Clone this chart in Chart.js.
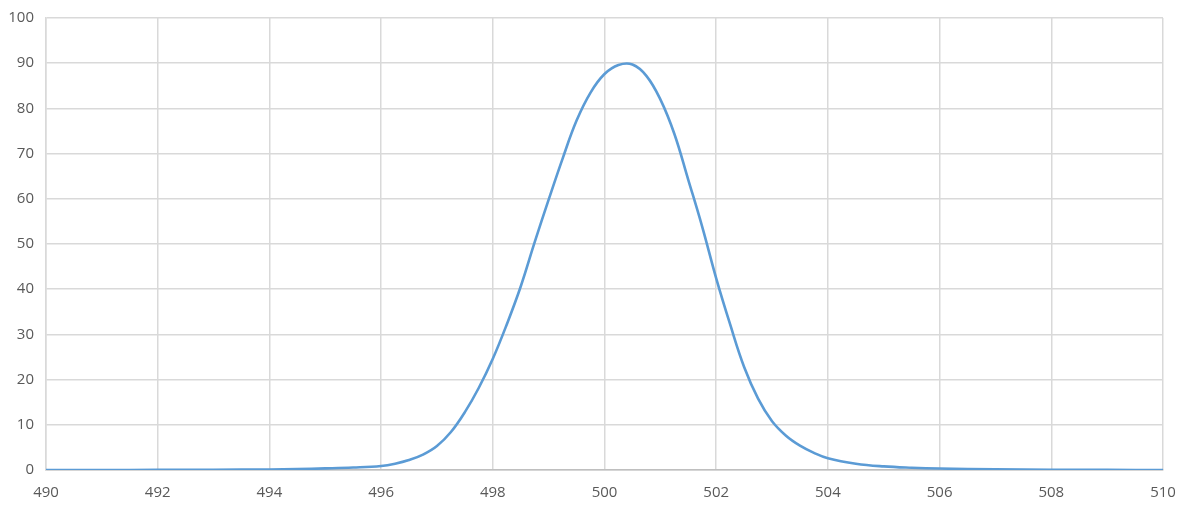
<!DOCTYPE html>
<html>
<head>
<meta charset="utf-8">
<script src="https://cdn.jsdelivr.net/npm/chart.js@4/dist/chart.umd.min.js"></script>
<style>
html,body{margin:0;padding:0;background:#fff;}
#wrap{width:1185px;height:505px;position:relative;}
</style>
</head>
<body>
<div id="wrap"><canvas id="c" width="1185" height="505"></canvas></div>
<script>
const xValues = [490,491,492,493,494,494.5,495,495.5,496,496.25,496.5,496.75,497,497.25,497.5,497.75,498,498.25,498.5,498.75,499,499.25,499.5,499.75,500,500.25,500.5,500.75,501,501.25,501.5,501.75,502,502.25,502.5,502.75,503,503.25,503.5,503.75,504,504.5,505,505.5,506,507,508,509,510];
const yValues = [0,0,0.02,0.05,0.12,0.2,0.35,0.55,0.9,1.4,2.2,3.4,5.3,8.4,12.8,18.2,24.6,32.2,40.6,50.4,59.8,68.9,77.3,83.5,87.6,89.6,89.7,87.2,82.0,74.4,64.2,53.8,42.4,32.2,22.8,15.8,10.8,7.6,5.4,3.8,2.6,1.4,0.8,0.5,0.32,0.15,0.06,0.02,0];
const xTicks = [490,492,494,496,498,500,502,504,506,508,510];
const yTicks = [0,10,20,30,40,50,60,70,80,90,100];

const points = xValues.map((x, i) => ({x: x, y: yValues[i]}));
const font = {family: "'Open Sans', sans-serif", size: 15};
const zeroPad = s => { s.paddingTop = 0; s.paddingBottom = 0; s.paddingLeft = 0; s.paddingRight = 0; };

new Chart(document.getElementById('c'), {
  type: 'line',
  data: {
    datasets: [{
      data: points,
      borderColor: '#5b9bd5',
      borderWidth: 2.6,
      pointRadius: 0,
      fill: false,
      tension: 0.4
    }]
  },
  options: {
    responsive: false,
    animation: false,
    devicePixelRatio: 1,
    layout: {padding: {left: 0, right: 22, top: 18, bottom: 0}},
    plugins: {legend: {display: false}, tooltip: {enabled: false}},
    scales: {
      x: {
        type: 'linear',
        min: 490, max: 510,
        afterBuildTicks: s => { s.ticks = xTicks.map(v => ({value: v})); },
        ticks: {color: '#595959', font: font, padding: 14, maxRotation: 0, autoSkip: false},
        grid: {color: '#d9d9d9', lineWidth: 1.5, drawTicks: false},
        border: {color: '#bfbfbf', width: 1.5},
        afterFit: s => { s.height = 35; zeroPad(s); }
      },
      y: {
        min: 0, max: 100,
        afterBuildTicks: s => { s.ticks = yTicks.map(v => ({value: v})); },
        ticks: {color: '#595959', font: font, padding: 12},
        grid: {color: '#d9d9d9', lineWidth: 1.5, drawTicks: false},
        border: {color: '#d9d9d9', width: 1.5},
        afterFit: s => { s.width = 46; zeroPad(s); }
      }
    }
  }
});
</script>
</body>
</html>
